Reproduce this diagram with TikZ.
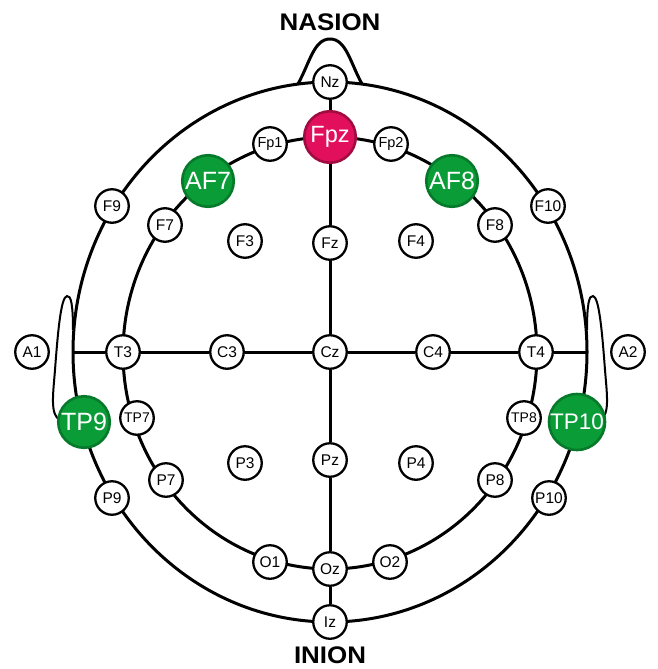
\documentclass[tikz,border=0pt]{standalone}
\usepackage{fontspec}
\setmainfont{Liberation Sans}
\definecolor{fpzred}{HTML}{E2105C}
\definecolor{fpzdark}{HTML}{A00C40}
\definecolor{egreen}{HTML}{0A9C37}
\definecolor{egreendark}{HTML}{067A2A}
\begin{document}
\begin{tikzpicture}[x=1pt,y=-1pt,
  head/.style={line width=3pt},
  earline/.style={line width=2pt, fill=white},
  el/.style={circle, draw, line width=2.3pt, fill=white, minimum size=33.5pt, inner sep=0pt, font=\fontsize{15.5}{15.5}\selectfont},
  elsm/.style={el, font=\fontsize{14.5}{14.5}\selectfont},
  elxs/.style={el, font=\fontsize{14}{14}\selectfont},
  big/.style={circle, draw, line width=2.6pt, minimum size=51.5pt, inner sep=0pt, text=white, font=\fontsize{25}{25}\selectfont},
  fpzst/.style={big, fill=fpzred, draw=fpzdark, font=\fontsize{23.5}{23.5}\selectfont},
  grn/.style={big, fill=egreen, draw=egreendark},
  title/.style={font=\bfseries\fontsize{24}{24}\selectfont, inner sep=0pt}
]
\useasboundingbox (0,0) rectangle (657,669);

% ears
\draw[earline] (73,330) .. controls (73,305) and (71,295) .. (67,296) .. controls (61,297) and (58,330) .. (55,370) .. controls (53,395) and (50,415) .. (60,420);
\draw[earline] (587,330) .. controls (587,305) and (589,295) .. (593,296) .. controls (599,297) and (602,330) .. (605,370) .. controls (607,395) and (610,415) .. (600,420);

% head outline, nose, inner ring
\draw[head] (330,352) ellipse [x radius=257pt, y radius=270pt];
\draw[head] (298,84) .. controls (310,62) and (314,39) .. (330,39) .. controls (346,39) and (350,62) .. (362,84);
\draw[head] (330,353) ellipse [x radius=207pt, y radius=216pt];

% free ends of the horizontal line
\coordinate (EL) at (73,352);
\coordinate (ER) at (587,352);

% electrodes
\node[el] (Nz) at (330,82) {Nz};
\node[fpzst] (Fpz) at (330,137) {Fpz};
\node[elsm] (Fp1) at (270,144) {Fp1};
\node[elsm] (Fp2) at (391,144) {Fp2};
\node[grn] (AF7) at (208,181) {AF7};
\node[grn] (AF8) at (452,181) {AF8};
\node[el] (F9) at (112,206) {F9};
\node[el] (F10) at (548,206) {F10};
\node[el] (F7) at (165,225) {F7};
\node[el] (F8) at (495,225) {F8};
\node[el] (F3) at (245,241) {F3};
\node[el] (Fz) at (330,243) {Fz};
\node[el] (F4) at (416,241) {F4};
\node[el] (A1) at (32,352) {A1};
\node[el] (T3) at (123,352) {T3};
\node[el] (C3) at (227,352) {C3};
\node[el] (Cz) at (330,352) {Cz};
\node[el] (C4) at (433,352) {C4};
\node[el] (T4) at (536,352) {T4};
\node[el] (A2) at (628,352) {A2};
\node[grn] (TP9) at (84,422) {TP9};
\node[grn, font=\fontsize{22.5}{22.5}\selectfont] (TP10) at (577,422) {TP10};
\node[elxs] (TP7) at (137,418) {TP7};
\node[elxs] (TP8) at (524,418) {TP8};
\node[el] (P3) at (245,463) {P3};
\node[el] (Pz) at (330,460) {Pz};
\node[el] (P4) at (416,463) {P4};
\node[el] (P7) at (166,480) {P7};
\node[el] (P8) at (495,480) {P8};
\node[el] (P9) at (112,498) {P9};
\node[el] (P10) at (549,498) {P10};
\node[el] (O1) at (270,562) {O1};
\node[el] (Oz) at (330,569) {Oz};
\node[el] (O2) at (390,562) {O2};
\node[el] (Iz) at (330,622) {Iz};

% midlines
\draw[head] (Nz) -- (Fpz);
\draw[head] (Fpz) -- (Fz);
\draw[head] (Fz) -- (Cz);
\draw[head] (Cz) -- (Pz);
\draw[head] (Pz) -- (Oz);
\draw[head] (Oz) -- (Iz);
\draw[head] (EL) -- (T3);
\draw[head] (T3) -- (C3);
\draw[head] (C3) -- (Cz);
\draw[head] (Cz) -- (C4);
\draw[head] (C4) -- (T4);
\draw[head] (T4) -- (ER);

% labels
\node[title] (nasion) at (330,22) {\scalebox{1.08}[1]{NASION}};
\node[title] (inion) at (330,655) {\scalebox{1.08}[1]{INION}};
\end{tikzpicture}
\end{document}
